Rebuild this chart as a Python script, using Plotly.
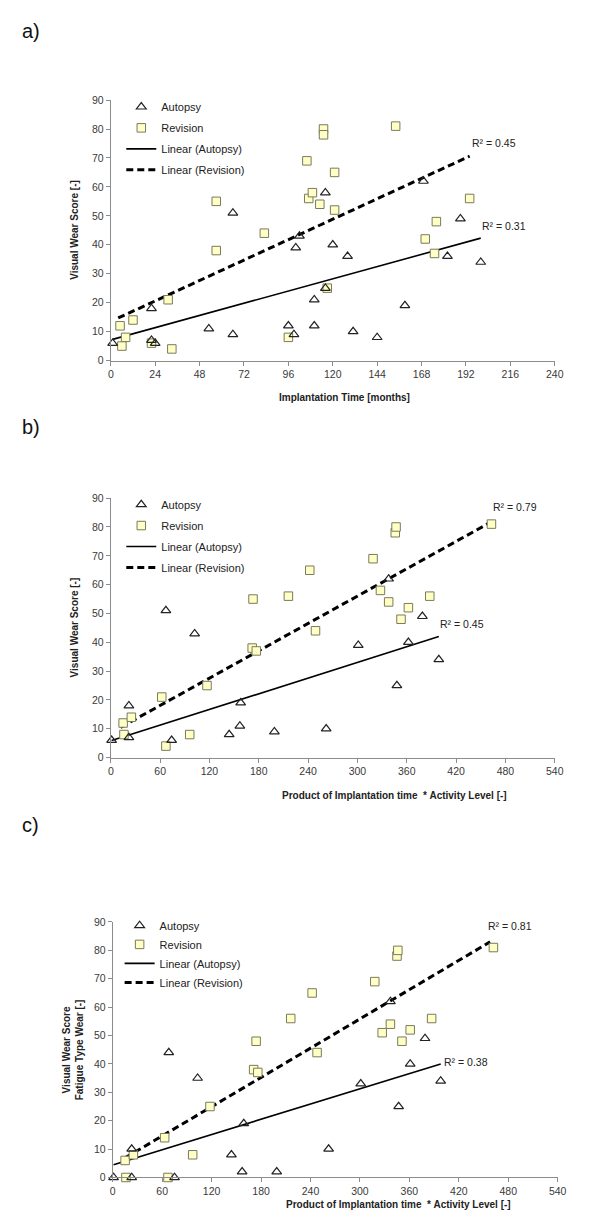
import plotly.graph_objects as go

W, H = 600, 1232

# ---------------- data ----------------
# Panel a) Implantation time [months] vs visual wear score
a_aut_x = [1, 22, 22, 24, 53, 66, 66, 96, 99, 100, 102, 110, 110, 116, 116, 120, 128, 131, 144, 159, 169, 182, 189, 200]
a_aut_y = [6, 18, 7, 6, 11, 51, 9, 12, 9, 39, 43, 21, 12, 58, 25, 40, 36, 10, 8, 19, 62, 36, 49, 34]
a_rev_x = [5, 8, 6, 12, 22, 31, 33, 57, 57, 83, 96, 106, 107, 109, 113, 115, 115, 117, 121, 121, 154, 176, 170, 175, 194]
a_rev_y = [12, 8, 5, 14, 6, 21, 4, 55, 38, 44, 8, 69, 56, 58, 54, 80, 78, 25, 65, 52, 81, 48, 42, 37, 56]
a_fit_aut_x = [1, 200]
a_fit_aut_y = [7.3, 42.3]
a_fit_rev_x = [4, 194]
a_fit_rev_y = [14.7, 70.6]
a_r2 = ["R² = 0.31", "R² = 0.45"]

# Panel b) Implantation time * activity level vs visual wear score
b_aut_x = [1, 22, 22, 67, 74, 102, 144, 157, 158, 199, 262, 301, 338, 348, 362, 379, 399]
b_aut_y = [6, 18, 7, 51, 6, 43, 8, 11, 19, 9, 10, 39, 62, 25, 40, 49, 34]
b_rev_x = [15, 16, 25, 62, 67, 96, 117, 172, 177, 173, 216, 242, 249, 319, 328, 338, 346, 347, 353, 362, 388, 463]
b_rev_y = [12, 8, 14, 21, 4, 8, 25, 38, 37, 55, 56, 65, 44, 69, 58, 54, 78, 80, 48, 52, 56, 81]
b_fit_aut_x = [1, 399]
b_fit_aut_y = [5.9, 42.0]
b_fit_rev_x = [12, 463]
b_fit_rev_y = [10.5, 81.8]
b_r2 = ["R² = 0.45", "R² = 0.79"]

# Panel c) Implantation time * activity level vs fatigue type wear
c_aut_x = [1, 23, 23, 68, 75, 103, 144, 157, 159, 199, 262, 301, 337, 347, 361, 379, 398]
c_aut_y = [0, 10, 0, 44, 0, 35, 8, 2, 19, 2, 10, 33, 62, 25, 40, 49, 34]
c_rev_x = [15, 16, 25, 63, 67, 97, 118, 171, 176, 174, 216, 242, 248, 318, 327, 337, 345, 346, 351, 361, 387, 462]
c_rev_y = [6, 0, 8, 14, 0, 8, 25, 38, 37, 48, 56, 65, 44, 69, 51, 54, 78, 80, 48, 52, 56, 81]
c_fit_aut_x = [1, 398]
c_fit_aut_y = [4.5, 40.0]
c_fit_rev_x = [15, 458]
c_fit_rev_y = [6.9, 83.0]
c_r2 = ["R² = 0.38", "R² = 0.81"]

x_tick_a = list(range(0, 241, 24))
x_tick_bc = list(range(0, 541, 60))
y_ticks = list(range(0, 91, 10))

FONT = "Arial, Liberation Sans, sans-serif"

panels = [
    dict(ax="", leg="legend", ax_x=a_aut_x, ax_y=a_aut_y, rv_x=a_rev_x, rv_y=a_rev_y,
         fa=(a_fit_aut_x, a_fit_aut_y), fr=(a_fit_rev_x, a_fit_rev_y), r2=a_r2,
         xr=[0, 240], xt=x_tick_a, dom_x=(110, 563), dom_y=(95, 358),
         r2pos=[(199.5, 46.5), (194, 75)], leg_pos=(120.7, 87.2), gap=2,
         xtitle="Implantation Time [months]", xt_pos=(348, 395),
         ytitle="Visual Wear Score [-]", yt_x=73, label="a)", lab_y=25),
    dict(ax="2", leg="legend2", ax_x=b_aut_x, ax_y=b_aut_y, rv_x=b_rev_x, rv_y=b_rev_y,
         fa=(b_fit_aut_x, b_fit_aut_y), fr=(b_fit_rev_x, b_fit_rev_y), r2=b_r2,
         xr=[0, 540], xt=x_tick_bc, dom_x=(110, 563), dom_y=(497, 759),
         r2pos=[(398, 46.4), (463, 87)], leg_pos=(120.7, 488.8), gap=2,
         xtitle="Product of Implantation time  * Activity Level [-]", xt_pos=(399, 797),
         ytitle="Visual Wear Score [-]", yt_x=73, label="b)", lab_y=425),
    dict(ax="3", leg="legend3", ax_x=c_aut_x, ax_y=c_aut_y, rv_x=c_rev_x, rv_y=c_rev_y,
         fa=(c_fit_aut_x, c_fit_aut_y), fr=(c_fit_rev_x, c_fit_rev_y), r2=c_r2,
         xr=[0, 540], xt=x_tick_bc, dom_x=(112, 566), dom_y=(925, 1183),
         r2pos=[(400, 40.8), (453, 88.6)], leg_pos=(119, 913.8), gap=0,
         xtitle="Product of Implantation time  * Activity Level [-]", xt_pos=(404, 1210),
         ytitle="Visual Wear Score<br>Fatigue Type Wear [-]", yt_x=71, label="c)", lab_y=827),
]

fig = go.Figure()
annotations = []
layout = {}

for p in panels:
    xa, ya = "x" + p["ax"], "y" + p["ax"]
    common = dict(xaxis=xa, yaxis=ya, legend=p["leg"], cliponaxis=False)
    fig.add_trace(go.Scatter(x=p["fa"][0], y=p["fa"][1], mode="lines", name="Linear (Autopsy)",
                             line=dict(color="black", width=1.6), legendgroup=p["leg"] + "c",
                             legendrank=3, **common))
    fig.add_trace(go.Scatter(x=p["fr"][0], y=p["fr"][1], mode="lines", name="Linear (Revision)",
                             line=dict(color="black", width=3, dash="7px,4px"), legendgroup=p["leg"] + "d",
                             legendrank=4, **common))
    fig.add_trace(go.Scatter(x=p["rv_x"], y=p["rv_y"], mode="markers", name="Revision",
                             marker=dict(symbol="square", size=8.5, color="#FFFFC6",
                                         line=dict(color="#7A7A5C", width=1)),
                             legendgroup=p["leg"] + "b", legendrank=2, **common))
    fig.add_trace(go.Scatter(x=p["ax_x"], y=p["ax_y"], mode="markers", name="Autopsy",
                             marker=dict(symbol="triangle-up-open", size=8.5, color="#222222",
                                         line=dict(width=1.2)),
                             legendgroup=p["leg"] + "a", legendrank=1, **common))

    axis_style = dict(showline=True, linecolor="#8C8C8C", linewidth=1, ticks="outside", ticklen=4,
                      tickcolor="#8C8C8C", showgrid=False, zeroline=False,
                      tickfont=dict(family=FONT, size=10.5, color="#3A3A3A"))
    layout["xaxis" + p["ax"]] = dict(domain=[p["dom_x"][0] / W, p["dom_x"][1] / W], range=p["xr"],
                                     tickvals=p["xt"], anchor=ya, **axis_style)
    layout["yaxis" + p["ax"]] = dict(domain=[1 - p["dom_y"][1] / H, 1 - p["dom_y"][0] / H], range=[0, 90],
                                     tickvals=y_ticks, anchor=xa, **axis_style)
    layout[p["leg"]] = dict(x=p["leg_pos"][0] / W, y=1 - p["leg_pos"][1] / H, xanchor="left", yanchor="top",
                            bgcolor="rgba(0,0,0,0)", traceorder="grouped", tracegroupgap=p["gap"],
                            font=dict(family=FONT, size=11, color="#222222"))

    for txt, (rx, ry) in zip(p["r2"], p["r2pos"]):
        annotations.append(dict(x=rx, y=ry, xref=xa, yref=ya, text=txt, showarrow=False,
                                xanchor="left", yanchor="middle",
                                font=dict(family=FONT, size=10.5, color="#222222")))
    annotations.append(dict(x=p["xt_pos"][0] / W, y=1 - p["xt_pos"][1] / H, xref="paper", yref="paper",
                            text="<b>" + p["xtitle"] + "</b>", showarrow=False,
                            xanchor="center", yanchor="middle",
                            font=dict(family=FONT, size=10, color="#222222")))
    yc = (p["dom_y"][0] + p["dom_y"][1]) / 2
    annotations.append(dict(x=p["yt_x"] / W, y=1 - yc / H, xref="paper", yref="paper",
                            text="<b>" + p["ytitle"] + "</b>", showarrow=False, textangle=-90,
                            xanchor="center", yanchor="middle",
                            font=dict(family=FONT, size=10, color="#222222")))
    annotations.append(dict(x=17 / W, y=1 - p["lab_y"] / H, xref="paper", yref="paper",
                            text=p["label"], showarrow=False, xanchor="left", yanchor="middle",
                            font=dict(family=FONT, size=20, color="#111111")))

fig.update_layout(width=W, height=H, autosize=False, margin=dict(l=0, r=0, t=0, b=0),
                  paper_bgcolor="white", plot_bgcolor="white", showlegend=True,
                  annotations=annotations, **layout)

fig.write_html("out.html", config={"displayModeBar": False},
               post_script="document.body.style.margin='0';")
